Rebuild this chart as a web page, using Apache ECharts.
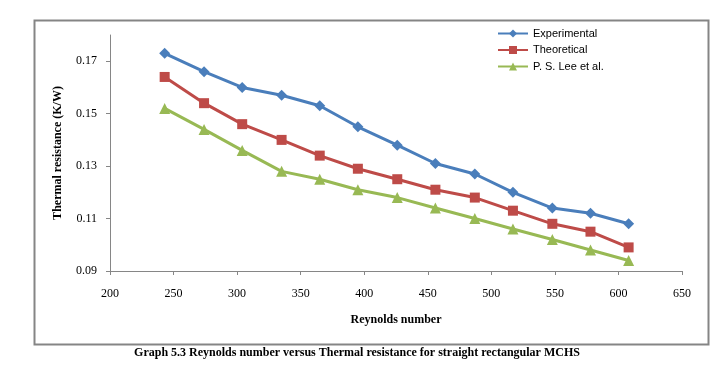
<!DOCTYPE html>
<html>
<head>
<meta charset="utf-8">
<script src="https://cdn.jsdelivr.net/npm/echarts@6/dist/echarts.min.js"></script>
<style>html,body{margin:0;padding:0;background:#fff}#c{width:714px;height:368px}</style>
</head>
<body>
<div id="c"></div>
<script>
const reynolds = [243, 274, 304, 335, 365, 395, 426, 456, 487, 517, 548, 578, 608];
const experimental = [0.173, 0.166, 0.160, 0.157, 0.153, 0.145, 0.138, 0.131, 0.127, 0.120, 0.114, 0.112, 0.108];
const theoretical = [0.164, 0.154, 0.146, 0.140, 0.134, 0.129, 0.125, 0.121, 0.118, 0.113, 0.108, 0.105, 0.099];
const leeEtAl = [0.152, 0.144, 0.136, 0.128, 0.125, 0.121, 0.118, 0.114, 0.110, 0.106, 0.102, 0.098, 0.094];
const yTicks = [0.09, 0.11, 0.13, 0.15, 0.17];
const seriesNames = ['Experimental', 'Theoretical', 'P. S. Lee et al.'];

const pair = (ys) => reynolds.map((x, i) => [x, ys[i]]);
const serif = 'Liberation Serif';
const chart = echarts.init(document.getElementById('c'), null, {renderer: 'canvas'});
chart.setOption({
  animation: false,
  backgroundColor: '#fff',
  graphic: [{
    type: 'rect', left: 32, top: 18,
    shape: {width: 674, height: 324},
    style: {fill: 'none', stroke: '#858585', lineWidth: 2}
  }],
  title: {
    text: 'Graph 5.3 Reynolds number versus Thermal resistance for straight rectangular MCHS',
    left: 'center', top: 342,
    textStyle: {fontFamily: serif, fontWeight: 'bold', fontSize: 12, color: '#000'}
  },
  legend: {
    orient: 'vertical', left: 497, top: 28, itemGap: 5.5, padding: 0,
    itemWidth: 30, itemHeight: 10,
    textStyle: {fontFamily: 'Liberation Sans', fontSize: 11, color: '#000'},
    data: seriesNames
  },
  grid: {left: 110, top: 35, right: 32, bottom: 97, containLabel: false},
  xAxis: {
    type: 'value', min: 200, max: 650, interval: 50,
    name: 'Reynolds number', nameLocation: 'middle', nameGap: 43,
    nameTextStyle: {fontFamily: serif, fontWeight: 'bold', fontSize: 12, color: '#000'},
    axisLine: {lineStyle: {color: '#868686', width: 1}},
    axisTick: {show: true, length: 4, lineStyle: {color: '#868686'}},
    axisLabel: {fontFamily: serif, fontSize: 12, color: '#000', margin: 17},
    splitLine: {show: false}
  },
  yAxis: {
    type: 'value', min: 0.09, max: 0.18, interval: 0.02,
    name: 'Thermal resistance (K/W)', nameLocation: 'middle', nameGap: 46, nameRotate: 90,
    nameTextStyle: {fontFamily: serif, fontWeight: 'bold', fontSize: 12, color: '#000'},
    axisLine: {show: true, lineStyle: {color: '#868686', width: 1}},
    axisTick: {show: true, length: 4, lineStyle: {color: '#868686'}, customValues: yTicks},
    axisLabel: {fontFamily: serif, fontSize: 12, color: '#000', margin: 13, customValues: yTicks,
      formatter: v => v.toFixed(2)},
    splitLine: {show: false}
  },
  series: [
    {name: seriesNames[0], type: 'line', data: pair(experimental), symbol: 'diamond', symbolSize: 11,
      color: '#4A7EBB', lineStyle: {width: 3, color: '#4A7EBB'}, itemStyle: {color: '#4A7EBB'}},
    {name: seriesNames[1], type: 'line', data: pair(theoretical), symbol: 'rect', symbolSize: 10,
      color: '#BE4B48', lineStyle: {width: 3, color: '#BE4B48'}, itemStyle: {color: '#BE4B48'}},
    {name: seriesNames[2], type: 'line', data: pair(leeEtAl), symbol: 'triangle', symbolSize: 11,
      color: '#98B954', lineStyle: {width: 3, color: '#98B954'}, itemStyle: {color: '#98B954'}}
  ]
});
</script>
</body>
</html>
